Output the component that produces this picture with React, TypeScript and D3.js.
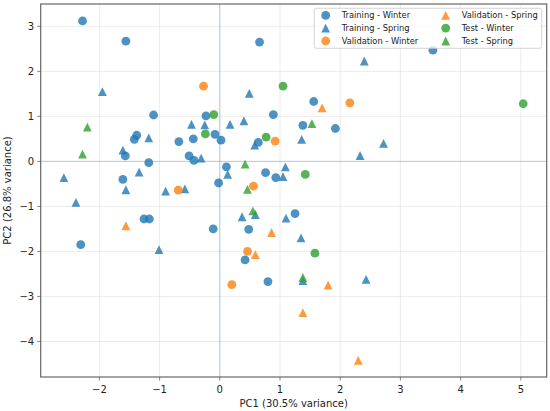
import React from 'react';
import * as d3 from 'd3';

type Pt = [number, number];

// PCA scores, one list per split/season
const trainingWinter: Pt[] = [
  [-2.28, 3.12], [-1.56, 2.67], [0.66, 2.65], [3.54, 2.47], [1.56, 1.33], [-1.1, 1.03],
  [-0.23, 1.01], [0.89, 1.04], [1.38, 0.8], [1.92, 0.73], [-1.38, 0.58], [-1.42, 0.49],
  [-0.08, 0.6], [0.02, 0.47], [-0.68, 0.44], [-0.44, 0.5], [0.64, 0.42], [-1.57, 0.12],
  [-0.51, 0.12], [-0.43, 0.02], [-1.18, -0.03], [0.11, -0.12], [0.76, -0.25], [0.93, -0.36],
  [-1.61, -0.4], [-0.02, -0.48], [-1.26, -1.28], [-1.17, -1.28], [1.25, -1.16], [-0.11, -1.5],
  [0.48, -1.51], [-2.31, -1.85], [0.42, -2.19], [0.8, -2.67],
];
const trainingSpring: Pt[] = [
  [2.4, 2.23], [-1.95, 1.55], [0.49, 1.51], [0.4, 0.9], [-0.47, 0.82], [-0.25, 0.81],
  [0.17, 0.82], [-1.18, 0.52], [1.36, 0.49], [2.72, 0.4], [0.58, 0.36], [-1.61, 0.25],
  [2.33, 0.13], [-0.31, 0.07], [1.09, -0.12], [-1.34, -0.24], [0.13, -0.29], [1.05, -0.34],
  [-2.59, -0.36], [-0.58, -0.61], [-1.56, -0.63], [-0.9, -0.66], [-2.39, -0.91], [0.37, -1.23],
  [0.59, -1.18], [1.1, -1.26], [1.35, -1.7], [-1.01, -1.96], [1.38, -2.65], [2.43, -2.62],
];
const validationWinter: Pt[] = [
  [-0.27, 1.67], [2.16, 1.3], [0.92, 0.45], [0.56, -0.55], [-0.69, -0.64], [0.46, -2.0], [0.2, -2.74],
];
const validationSpring: Pt[] = [
  [1.7, 1.19], [-1.56, -1.43], [0.86, -1.58], [0.59, -2.07], [1.8, -2.75], [1.38, -3.36], [2.3, -4.42],
];
const testWinter: Pt[] = [
  [1.05, 1.67], [5.04, 1.28], [-0.1, 1.04], [-0.24, 0.61], [0.77, 0.54], [1.42, -0.29], [1.58, -2.04],
];
const testSpring: Pt[] = [
  [-2.2, 0.76], [-2.28, 0.16], [1.53, 0.84], [0.42, -0.06], [0.46, -0.62], [0.55, -1.1], [1.38, -2.58],
];

const xTicks = [-2, -1, 0, 1, 2, 3, 4, 5];
const yTicks = [-4, -3, -2, -1, 0, 1, 2, 3];

const series = [
  { label: 'Training - Winter', data: trainingWinter, color: '#1f77b4', marker: 'o' },
  { label: 'Training - Spring', data: trainingSpring, color: '#1f77b4', marker: '^' },
  { label: 'Validation - Winter', data: validationWinter, color: '#ff7f0e', marker: 'o' },
  { label: 'Validation - Spring', data: validationSpring, color: '#ff7f0e', marker: '^' },
  { label: 'Test - Winter', data: testWinter, color: '#2ca02c', marker: 'o' },
  { label: 'Test - Spring', data: testSpring, color: '#2ca02c', marker: '^' },
];

const W = 550;
const H = 411;
const margin = { top: 4, right: 3.3, bottom: 34, left: 40.7 };
const font = '"DejaVu Sans", sans-serif';
const fmt = (v: number) => (v < 0 ? `\u2212${Math.abs(v)}` : `${v}`);

function Marker({ kind, x, y, color }: { kind: string; x: number; y: number; color: string }) {
  const d = 8.8;
  if (kind === 'o') {
    return <circle cx={x} cy={y} r={d / 2} fill={color} fillOpacity={0.8} />;
  }
  const h = d / 2;
  return (
    <path
      d={`M${x},${y - h}L${x - h},${y + h}L${x + h},${y + h}Z`}
      fill={color}
      fillOpacity={0.8}
    />
  );
}

export default function App() {
  const x = d3.scaleLinear().domain([-2.975, 5.43]).range([margin.left, W - margin.right]);
  const y = d3.scaleLinear().domain([-4.79, 3.496]).range([H - margin.bottom, margin.top]);
  const [x0, x1] = x.range();
  const [y0, y1] = y.range();

  const legendCols = [series.slice(0, 3), series.slice(3)];

  return (
    <svg
      width={W}
      height={H}
      style={{ position: 'absolute', left: 0, top: 0, background: '#fff' }}
      fontFamily={font}
    >
      {/* grid */}
      <g stroke="#b0b0b0" strokeOpacity={0.3} strokeWidth={0.8}>
        {xTicks.map(t => (
          <line key={`gx${t}`} x1={x(t)} x2={x(t)} y1={y1} y2={y0} />
        ))}
        {yTicks.map(t => (
          <line key={`gy${t}`} x1={x0} x2={x1} y1={y(t)} y2={y(t)} />
        ))}
      </g>

      {/* zero reference lines */}
      <g stroke="#1f77b4" strokeOpacity={0.3} strokeWidth={1}>
        <line x1={x(0)} x2={x(0)} y1={y1} y2={y0} />
        <line x1={x0} x2={x1} y1={y(0)} y2={y(0)} />
      </g>

      {series.map(s => (
        <g key={s.label}>
          {s.data.map((p, i) => (
            <Marker key={i} kind={s.marker} x={x(p[0])} y={y(p[1])} color={s.color} />
          ))}
        </g>
      ))}

      {/* frame */}
      <rect x={x0} y={y1} width={x1 - x0} height={y0 - y1} fill="none" stroke="#666" strokeWidth={1.2} />

      {/* x axis */}
      {xTicks.map(t => (
        <g key={`tx${t}`}>
          <line x1={x(t)} x2={x(t)} y1={y0} y2={y0 + 3.5} stroke="#666" strokeWidth={0.8} />
          <text x={x(t)} y={y0 + 16} textAnchor="middle" fontSize={10} fill="#222">
            {fmt(t)}
          </text>
        </g>
      ))}
      {yTicks.map(t => (
        <g key={`ty${t}`}>
          <line x1={x0 - 3.5} x2={x0} y1={y(t)} y2={y(t)} stroke="#666" strokeWidth={0.8} />
          <text x={x0 - 6.5} y={y(t) + 3.6} textAnchor="end" fontSize={10} fill="#222">
            {fmt(t)}
          </text>
        </g>
      ))}

      <text x={(x0 + x1) / 2} y={407} textAnchor="middle" fontSize={10} fill="#222">
        PC1 (30.5% variance)
      </text>
      <text
        transform={`translate(11,${(y0 + y1) / 2}) rotate(-90)`}
        textAnchor="middle"
        fontSize={10}
        fill="#222"
      >
        PC2 (26.8% variance)
      </text>

      {/* legend */}
      <rect x={314.3} y={8.3} width={227.4} height={40} rx={2} fill="#fff" fillOpacity={0.8} stroke="#ccc" strokeWidth={0.8} />
      {legendCols.map((col, ci) =>
        col.map((s, ri) => {
          const mx = ci === 0 ? 325.7 : 445.7;
          const my = 15.4 + ri * 12.8;
          return (
            <g key={s.label}>
              <Marker kind={s.marker} x={mx} y={my} color={s.color} />
              <text x={mx + 16} y={my + 3} fontSize={8.3} fill="#222">
                {s.label}
              </text>
            </g>
          );
        })
      )}
    </svg>
  );
}
